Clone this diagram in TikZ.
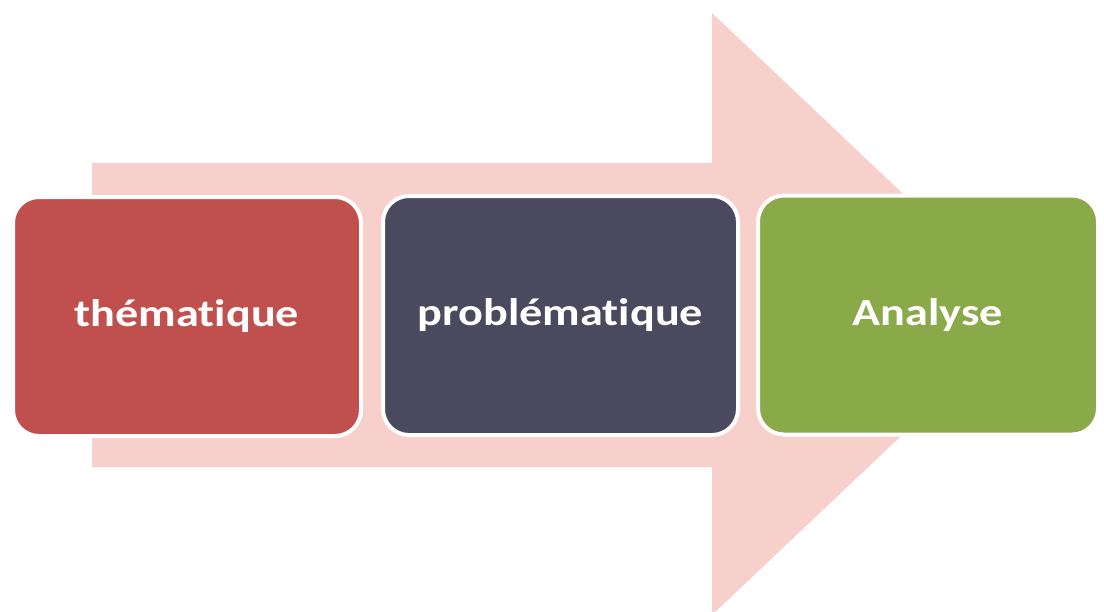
\documentclass[tikz,border=0pt]{standalone}
\usepackage{fontspec}
\newfontfamily\stagefont{Carlito}[FakeStretch=1.2, Ligatures={NoCommon}]
\usetikzlibrary{positioning}

\definecolor{arrowpink}{RGB}{247,207,203}
\definecolor{stagered}{RGB}{192,80,77}
\definecolor{stagedark}{RGB}{74,73,94}
\definecolor{stagegreen}{RGB}{138,169,72}

\begin{document}
\begin{tikzpicture}[x=1pt, y=-1pt,
          line join = round
      ]

      \tikzstyle{stage}=[
          draw = white,
          line width = 4pt,
          rounded corners = 26pt,
          text = white,
          minimum height = 239pt,
          font = \stagefont\bfseries\fontsize{38.5}{40}\selectfont
      ]
  \useasboundingbox (0,0) rectangle (1104,611);
  \clip (0,0) rectangle (1104,611);

  % Draw the big arrow behind the stages.
  \coordinate (s1) at (92,163);
  \coordinate (s2) at (712,163);
  \coordinate (h1) at (712,13);
  \coordinate (tip) at (1030,314);
  \coordinate (h2) at (712,615);
  \coordinate (s3) at (712,467);
  \coordinate (s4) at (92,467);
  \fill[arrowpink] (s1) -- (s2) -- (h1) -- (tip) -- (h2) -- (s3) -- (s4) -- cycle;

  % Draw the stages.
  \node[stage, fill = stagered, minimum width = 348pt] (them) at (187,316.5) {thématique};
  \node[stage, fill = stagedark, minimum width = 355pt] (prob) at (560.5,315.5) {problématique};
  \node[stage, fill = stagegreen, minimum width = 340pt] (anal) at (928,315) {Analyse};
\end{tikzpicture}
\end{document}
